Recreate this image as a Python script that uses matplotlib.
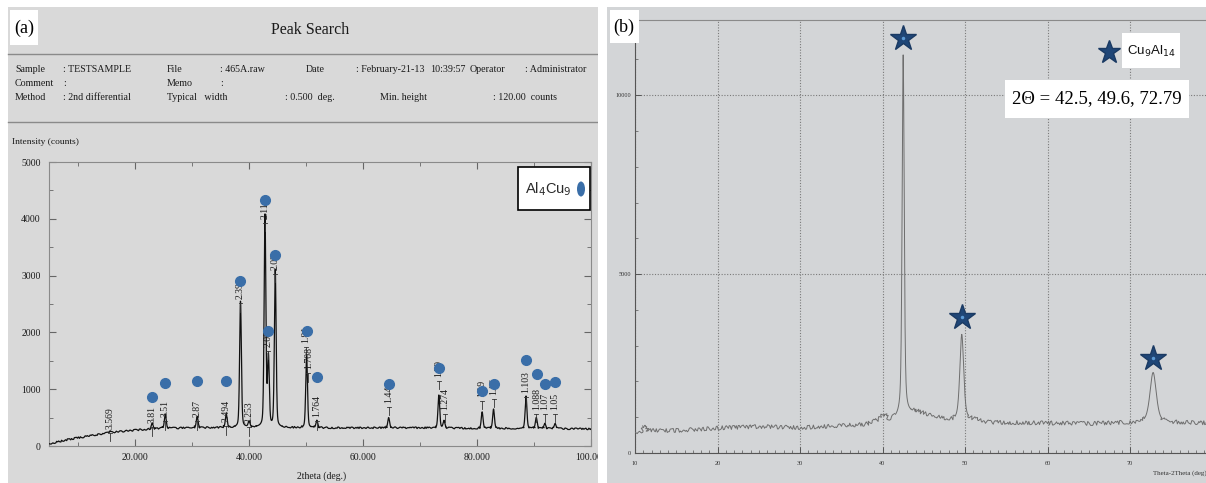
import numpy as np
import matplotlib.pyplot as plt
from matplotlib.patches import Rectangle, Ellipse
from matplotlib.ticker import MultipleLocator, FixedLocator

plt.rcParams['font.family'] = ['Liberation Serif', 'DejaVu Serif']

W, H, DPI = 1206, 483, 100

# ---------------- panel (a): peak search of the Al4Cu9 sample ----------------
a_bg_theta = [5, 8, 12, 16, 20, 25, 30, 40, 50, 60, 70, 80, 90, 100]
a_bg_counts = [40, 110, 180, 240, 280, 310, 320, 330, 320, 320, 320, 310, 310, 300]

a_peak_theta = [15.6, 23.0, 25.3, 30.9, 36.0, 38.5, 40.0, 42.8, 43.4, 44.6,
                50.1, 51.9, 64.5, 73.3, 74.2, 80.9, 82.9, 88.6, 90.4, 91.9, 93.7]
a_peak_height = [30, 110, 250, 200, 235, 2220, 100, 3720, 1200, 2770,
                 1280, 130, 180, 580, 130, 290, 340, 570, 190, 90, 90]

a_label_text = ["3.569", "3.81", "3.51", "2.87", "2.494", "2.39", "2.253", "2.11",
                "2.08", "2.03", "1.81", "1.708", "1.764", "1.44", "1.29", "1.274",
                "1.19", "1.16", "1.103", "1.088", "1.07", "1.05"]
a_label_theta = [15.6, 23.0, 25.3, 30.9, 36.0, 38.5, 40.0, 42.8, 43.4, 44.6,
                 50.0, 50.4, 51.9, 64.5, 73.3, 74.3, 80.8, 83.0, 88.6, 90.4, 91.9, 93.7]
a_label_base = [300, 400, 510, 510, 420, 2580, 400, 4000, 1750, 3100,
                1820, 1350, 510, 760, 1220, 640, 870, 900, 940, 640, 640, 640]

a_dot_theta = [23.0, 25.3, 30.9, 36.0, 38.5, 42.8, 43.4, 44.6, 50.1, 51.9,
               64.5, 73.3, 80.9, 83.0, 88.6, 90.5, 91.9, 93.7]
a_dot_counts = [870, 1110, 1150, 1150, 2900, 4330, 2020, 3360, 2030, 1220,
                1100, 1380, 960, 1100, 1520, 1260, 1100, 1130]

a_xticks = [20, 40, 60, 80, 100]
a_xticklabels = ["20.000", "40.000", "60.000", "80.000", "100.000"]
a_yticks = [0, 1000, 2000, 3000, 4000, 5000]

# ---------------- panel (b): Cu9Al14 diffractogram ----------------
b_bg_theta = [10, 12, 15, 20, 25, 30, 35, 38, 40, 41, 44, 47, 48.5, 51, 53, 60, 65, 70, 75, 80]
b_bg_counts = [580, 620, 630, 700, 740, 710, 760, 800, 950, 900, 1150, 990, 900, 930, 850,
               840, 820, 850, 850, 840]
b_peak_theta = [11.2, 40.2, 42.5, 49.6, 72.79]
b_peak_height = [170, 120, 10100, 2400, 1400]
b_peak_fwhm = [0.4, 0.7, 0.3, 0.55, 0.9]

b_star_theta = [42.5, 49.6, 72.79]
b_star_counts = [11600, 3800, 2650]

b_xticks = [10, 20, 30, 40, 50, 60, 70]
b_yticks = [0, 5000, 10000]


def pseudo_voigt(x, centre, height, fwhm, eta=0.4):
    u = (x - centre) / fwhm
    return height * (eta / (1 + 4 * u ** 2) + (1 - eta) * np.exp(-4 * np.log(2) * u ** 2))


def rect(x0, y0, x1, y1):
    """figure-fraction rectangle from pixel corners (top-left origin)"""
    return [x0 / W, 1 - y1 / H, (x1 - x0) / W, (y1 - y0) / H]


def fpt(x, y):
    return x / W, 1 - y / H


def draw_pattern(ax, x, background, peaks, color, lw, jitter, threshold):
    """Plain strokes across the reflections, a slightly ragged stroke on the background."""
    y = background + peaks
    on_peak = peaks > threshold
    grown = np.convolve(on_peak.astype(float), np.ones(5), mode='same') > 0
    ax.plot(x, np.where(grown, y, np.nan), color=color, lw=lw, zorder=3)
    rough, = ax.plot(x, np.where(on_peak, np.nan, y), color=color, lw=lw, zorder=3)
    rough.set_sketch_params(scale=jitter, length=2.5, randomness=6)


fig = plt.figure(figsize=(W / DPI, H / DPI), dpi=DPI)
fig.patch.set_facecolor('white')

# panel backgrounds
fig.add_artist(Rectangle(fpt(8, 483), 590 / W, 476 / H, transform=fig.transFigure,
                         facecolor='#d9d9d9', edgecolor='none', zorder=0))
fig.add_artist(Rectangle(fpt(607, 483), 599 / W, 476 / H, transform=fig.transFigure,
                         facecolor='#d3d5d7', edgecolor='none', zorder=0))

# ---- panel (a) header ----
fig.text(*fpt(310, 30), "Peak Search", ha='center', va='center', fontsize=11.5, color='#1a1a1a')
for yy in (54, 122):
    fig.add_artist(plt.Line2D([8 / W, 598 / W], [1 - yy / H] * 2, transform=fig.transFigure,
                              color='#8a8a8a', lw=1.0))
hdr = [
    (15, 70, "Sample"), (63, 70, ": TESTSAMPLE"), (167, 70, "File"), (220, 70, ": 465A.raw"),
    (306, 70, "Date"), (356, 70, ": February-21-13"), (430, 70, "10:39:57"),
    (470, 70, "Operator"), (525, 70, ": Administrator"),
    (15, 83, "Comment"), (63, 83, ":"), (167, 83, "Memo"), (220, 83, ":"),
    (15, 97, "Method"), (63, 97, ": 2nd differential"), (167, 97, "Typical   width"),
    (285, 97, ": 0.500  deg."), (380, 97, "Min. height"), (493, 97, ": 120.00  counts"),
]
for x, y, s in hdr:
    fig.text(*fpt(x, y), s, ha='left', va='center', fontsize=7.2, color='#1a1a1a')
fig.text(*fpt(12, 142), "Intensity (counts)", ha='left', va='center', fontsize=6.8, color='#1a1a1a')

# ---- panel (a) plot ----
ax_a = fig.add_axes(rect(49, 162, 591, 446))
ax_a.set_facecolor('none')
xa = np.linspace(4.9, 100, 6000)
bg_a = np.interp(xa, a_bg_theta, a_bg_counts)
pk_a = np.zeros_like(xa)
for c, h in zip(a_peak_theta, a_peak_height):
    pk_a = pk_a + pseudo_voigt(xa, c, h, 0.36, 0.3)
draw_pattern(ax_a, xa, bg_a, pk_a, '#111111', 0.9, 0.8, 25)

for s, t, b in zip(a_label_text, a_label_theta, a_label_base):
    ax_a.text(t, b, s, rotation=90, ha='center', va='bottom', fontsize=7, color='#1a1a1a', zorder=4)
    ax_a.plot([t, t], [b - 220, b - 70], color='#333333', lw=0.6, zorder=3)
    ax_a.plot([t - 0.35, t + 0.35], [b - 70, b - 70], color='#333333', lw=0.6, zorder=3)

ax_a.plot(a_dot_theta, a_dot_counts, 'o', ms=7, color='#3a6ea8', mec='#3a6ea8', zorder=5)

ax_a.set_xlim(4.9, 100)
ax_a.set_ylim(0, 5000)
ax_a.xaxis.set_major_locator(FixedLocator(a_xticks))
ax_a.set_xticklabels(a_xticklabels)
ax_a.xaxis.set_minor_locator(MultipleLocator(10))
ax_a.yaxis.set_major_locator(FixedLocator(a_yticks))
ax_a.yaxis.set_minor_locator(MultipleLocator(500))
ax_a.tick_params(which='both', direction='in', top=True, right=True, colors='#666666',
                 labelcolor='#1a1a1a', labelsize=7)
ax_a.tick_params(which='major', length=5, width=0.8)
ax_a.tick_params(which='minor', length=3, width=0.6)
ax_a.tick_params(axis='x', pad=5)
ax_a.tick_params(axis='y', pad=6)
for sp in ax_a.spines.values():
    sp.set_color('#8a8a8a')
    sp.set_linewidth(0.8)
fig.text(*fpt(322, 476), "2theta (deg.)", ha='center', va='center', fontsize=7, color='#1a1a1a')

# legend box (a)
fig.add_artist(Rectangle(fpt(518, 210), 72 / W, 43 / H, transform=fig.transFigure,
                         facecolor='white', edgecolor='black', lw=1.2, zorder=6))
fig.text(*fpt(525, 189), r"Al$_4$Cu$_9$", ha='left', va='center', fontsize=10.5,
         family=['Liberation Sans', 'DejaVu Sans'], color='#2a2a2a', zorder=7)
fig.add_artist(Ellipse(fpt(581, 189), 8 / W, 15 / H, transform=fig.transFigure,
                       facecolor='#3a6ea8', edgecolor='none', zorder=7))

# "(a)" tag
fig.add_artist(Rectangle(fpt(10, 45), 28 / W, 35 / H, transform=fig.transFigure,
                         facecolor='white', edgecolor='none', zorder=6))
fig.text(*fpt(24, 28), "(a)", ha='center', va='center', fontsize=13, color='black', zorder=7)

# ---- panel (b) plot ----
ax_b = fig.add_axes(rect(635, 20, 1206, 453))
ax_b.set_facecolor('none')
xb = np.linspace(10, 80, 6000)
bg_b = np.interp(xb, b_bg_theta, b_bg_counts)
pk_b = np.zeros_like(xb)
for c, h, w in zip(b_peak_theta, b_peak_height, b_peak_fwhm):
    pk_b = pk_b + pseudo_voigt(xb, c, h, w, 0.5)
draw_pattern(ax_b, xb, bg_b, pk_b, '#6e6e6e', 0.7, 2.0, 140)

ax_b.plot(b_star_theta, b_star_counts, '*', ms=19, mfc='#1f4677', mec='#1a3a63', mew=1.0, zorder=5)
ax_b.plot(b_star_theta, b_star_counts, 'o', ms=2.5, color='#5b9ad6', mec='none', zorder=6)

ax_b.set_xlim(10, 79.2)
ax_b.set_ylim(0, 12100)
ax_b.xaxis.set_major_locator(FixedLocator(b_xticks))
ax_b.xaxis.set_minor_locator(MultipleLocator(1))
ax_b.yaxis.set_major_locator(FixedLocator(b_yticks))
ax_b.yaxis.set_minor_locator(MultipleLocator(1000))
ax_b.tick_params(which='both', direction='in', colors='#555555', labelcolor='#333333', labelsize=4.5)
ax_b.tick_params(which='major', length=4, width=0.7)
ax_b.tick_params(which='minor', length=2.5, width=0.5)
ax_b.tick_params(axis='x', pad=6)
ax_b.tick_params(axis='y', pad=3)
ax_b.grid(True, which='major', color='#7a7a7a', lw=0.8, linestyle=(0, (1, 1.5)))
ax_b.spines['right'].set_visible(False)
ax_b.spines['left'].set_color('#555555')
ax_b.spines['bottom'].set_color('#555555')
ax_b.spines['top'].set_color('#8a8a8a')
for sp in ax_b.spines.values():
    sp.set_linewidth(0.8)
fig.text(*fpt(1153, 473), "Theta-2Theta (deg)", ha='left', va='center', fontsize=5, color='#333333')

# legend (b)
ax_b.plot([0.83], [0.925], '*', transform=ax_b.transAxes, ms=17, mfc='#1f4677',
          mec='#1a3a63', zorder=7, clip_on=False)
fig.add_artist(Rectangle(fpt(1122, 68), 58 / W, 35 / H, transform=fig.transFigure,
                         facecolor='white', edgecolor='none', zorder=6))
fig.text(*fpt(1127, 51), r"Cu$_9$Al$_{14}$", ha='left', va='center', fontsize=9.5,
         family=['Liberation Sans', 'DejaVu Sans'], color='#111111', zorder=7)
fig.add_artist(Rectangle(fpt(1005, 118), 184 / W, 38 / H, transform=fig.transFigure,
                         facecolor='white', edgecolor='none', zorder=6))
fig.text(*fpt(1097, 99), "2\u0398 = 42.5, 49.6, 72.79", ha='center', va='center', fontsize=13.5,
         color='black', zorder=7)

# "(b)" tag
fig.add_artist(Rectangle(fpt(610, 43), 29 / W, 33 / H, transform=fig.transFigure,
                         facecolor='white', edgecolor='none', zorder=6))
fig.text(*fpt(624, 27), "(b)", ha='center', va='center', fontsize=13, color='black', zorder=7)

# white gutter between the two panels
fig.add_artist(Rectangle(fpt(598, 483), 9 / W, 483 / H, transform=fig.transFigure,
                         facecolor='white', edgecolor='none', zorder=10))

fig.savefig("out.png", dpi=DPI)
